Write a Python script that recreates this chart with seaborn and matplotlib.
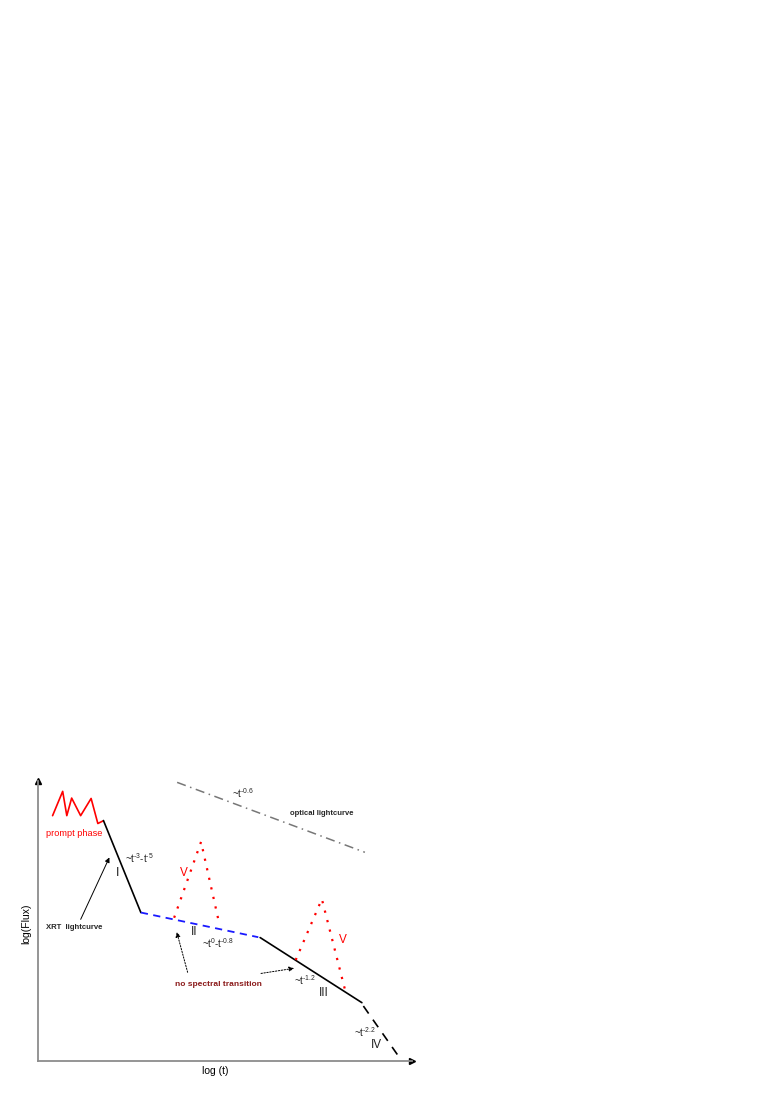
import matplotlib
matplotlib.use("Agg")
import matplotlib.pyplot as plt
import seaborn as sns

sns.set_style("white")
plt.rcParams['font.family'] = ['Liberation Sans', 'DejaVu Sans']
plt.rcParams['mathtext.fontset'] = 'custom'
plt.rcParams['mathtext.rm'] = 'Liberation Sans'
plt.rcParams['mathtext.it'] = 'Liberation Sans'

# schematic light curve segments (log t, log flux)
prompt_t = [0.39, 0.66, 0.77, 0.90, 1.14, 1.42, 1.60, 1.74]
prompt_f = [6.56, 7.21, 6.56, 7.03, 6.56, 7.02, 6.35, 6.42]
seg1_t = [1.75, 2.75]
seg1_f = [6.43, 3.97]
seg2_t = [2.75, 5.89]
seg2_f = [3.97, 3.31]
seg3_t = [5.94, 8.66]
seg3_f = [3.30, 1.56]
seg4_t = [8.70, 9.68]
seg4_f = [1.47, 0.07]
flare1_t = [3.64, 4.36, 4.84]
flare1_f = [3.83, 5.86, 3.70]
flare2_t = [6.89, 7.59, 8.21]
flare2_f = [2.70, 4.33, 1.90]
optical_t = [3.72, 8.74]
optical_f = [7.45, 5.58]

fig = plt.figure(figsize=(7.65, 11), dpi=100)
ax = fig.add_axes([38 / 765, 39 / 1100, 374 / 765, 280.5 / 1100])
ax.set_xlim(0, 10)
ax.set_ylim(0, 7.5)
ax.set_xticks([])
ax.set_yticks([])
for side in ['top', 'right']:
    ax.spines[side].set_visible(False)
for side in ['left', 'bottom']:
    ax.spines[side].set_color('#8c8c8c')
    ax.spines[side].set_linewidth(1.3)
ax.plot(1, 0, '>', color='black', ms=4, transform=ax.transAxes, clip_on=False)
ax.plot(0, 1, '^', color='black', ms=4, transform=ax.transAxes, clip_on=False)

sns.lineplot(x=prompt_t, y=prompt_f, sort=False, ax=ax, color='red', lw=1.2)
sns.lineplot(x=seg1_t, y=seg1_f, ax=ax, color='black', lw=1.2)
sns.lineplot(x=seg2_t, y=seg2_f, ax=ax, color='#1a1aff', lw=1.3,
             linestyle=(0, (4, 3)))
sns.lineplot(x=seg3_t, y=seg3_f, ax=ax, color='black', lw=1.2)
sns.lineplot(x=seg4_t, y=seg4_f, ax=ax, color='black', lw=1.2,
             linestyle=(0, (5.5, 4.5)))
sns.lineplot(x=flare1_t, y=flare1_f, sort=False, ax=ax, color='red', lw=1.6,
             linestyle=(0, (1, 3.4)))
sns.lineplot(x=flare2_t, y=flare2_f, sort=False, ax=ax, color='red', lw=1.6,
             linestyle=(0, (1, 3.4)))
sns.lineplot(x=optical_t, y=optical_f, ax=ax, color='#777777', lw=1.1,
             linestyle=(0, (6, 3, 1, 3)))

# labels (U+2010 hyphen keeps the exponents short like the original)
ax.text(0.97, 6.07, 'prompt phase', color='red', fontsize=6.6, ha='center', va='center')
ax.text(2.70, 5.42, '~t$^{\u20103}$-t$^{\u20105}$', fontsize=7, ha='center', va='center')
ax.text(2.13, 5.03, 'I', fontsize=9, color='#222222', ha='center', va='center')
ax.text(3.89, 5.03, 'V', color='red', fontsize=8.5, ha='center', va='center')
ax.text(5.49, 7.17, '~t$^{\u20100.6}$', fontsize=7, ha='center', va='center')
ax.text(7.58, 6.63, 'optical lightcurve', fontsize=5.5, fontweight='bold',
        ha='center', va='center')
ax.text(4.18, 3.44, 'II', fontsize=8.5, color='#222222', ha='center', va='center')
ax.text(4.81, 3.15, '~t$^{0}$-t$^{\u20100.8}$', fontsize=7, ha='center', va='center')
ax.text(4.83, 2.05, 'no spectral transition', color='#8b1a1a', fontsize=6,
        fontweight='bold', ha='center', va='center')
ax.text(7.15, 2.17, '~t$^{\u20101.2}$', fontsize=7, ha='center', va='center')
ax.text(7.63, 1.81, 'III', fontsize=8.5, color='#222222', ha='center', va='center')
ax.text(8.15, 3.24, 'V', color='red', fontsize=8.5, ha='center', va='center')
ax.text(8.73, 0.78, '~t$^{\u20102.2}$', fontsize=7, ha='center', va='center')
ax.text(9.04, 0.43, 'IV', fontsize=8.5, color='#222222', ha='center', va='center')
ax.text(0.97, 3.56, 'XRT  lightcurve', fontsize=5.6, fontweight='bold',
        ha='center', va='center')

ax.annotate('', xy=(1.94, 5.51), xytext=(1.11, 3.72),
            arrowprops=dict(arrowstyle='-|>', color='black', lw=0.7,
                            mutation_scale=7))
ax.annotate('', xy=(3.69, 3.52), xytext=(4.02, 2.30),
            arrowprops=dict(arrowstyle='-|>', color='black', lw=0.7,
                            linestyle=(0, (1.5, 1.5)), mutation_scale=7))
ax.annotate('', xy=(6.92, 2.49), xytext=(5.89, 2.33),
            arrowprops=dict(arrowstyle='-|>', color='black', lw=0.7,
                            linestyle=(0, (1.5, 1.5)), mutation_scale=7))

# axis titles
ax.text(0.473, -0.035, 'log (t)', transform=ax.transAxes, fontsize=7.5,
        ha='center', va='center', color='black')
ax.text(-0.032, 0.49, 'log(Flux)', transform=ax.transAxes, fontsize=7.5,
        rotation=90, ha='center', va='center', color='black')

fig.savefig('out.png', dpi=100)
